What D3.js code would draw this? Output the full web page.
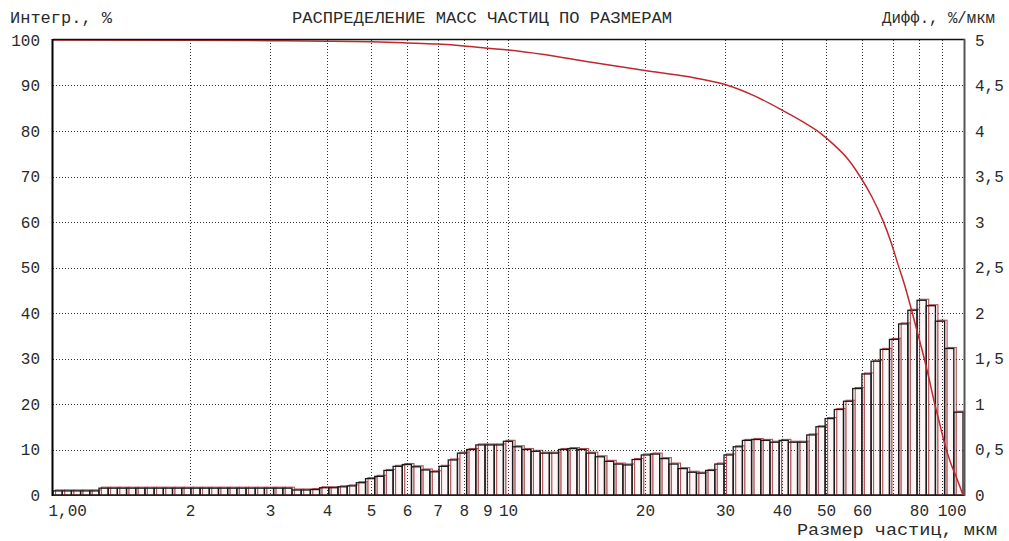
<!DOCTYPE html>
<html lang="ru">
<head>
<meta charset="utf-8">
<script src="https://cdn.jsdelivr.net/npm/d3@7/dist/d3.min.js"></script>
<style>
  html, body { margin: 0; padding: 0; background: #fff; }
  svg { display: block; }
  text { font-family: "Liberation Mono", "DejaVu Sans Mono", monospace; fill: #2a2a2a; }
</style>
</head>
<body>
<svg id="chart" width="1009" height="541"></svg>
<script>
// Size classes of the analyser: 99 geometric classes between 1 and 100 µm
const sizeMin = 1;
const sizeMax = 100;
const classCount = 99;

// Differential distribution, %/мкм, one value per size class (smallest first)
const diffValues = [
  0.045, 0.045, 0.045, 0.045, 0.045,
  0.075, 0.075, 0.075, 0.075, 0.075, 0.075, 0.075, 0.075, 0.075, 0.075,
  0.075, 0.075, 0.075, 0.075, 0.075, 0.075, 0.075, 0.075, 0.075, 0.075, 0.075,
  0.055, 0.055, 0.06,
  0.08, 0.08, 0.09, 0.10, 0.135, 0.18, 0.205, 0.27, 0.315, 0.335,
  0.31, 0.275, 0.255, 0.315, 0.385, 0.46, 0.50, 0.55, 0.55, 0.55,
  0.59, 0.53, 0.50, 0.48, 0.46, 0.46, 0.50, 0.51, 0.50, 0.46,
  0.42, 0.37, 0.34, 0.33, 0.39, 0.44, 0.45, 0.40, 0.34, 0.29,
  0.25, 0.24, 0.27, 0.34, 0.44, 0.53, 0.60, 0.61, 0.60, 0.58,
  0.60, 0.58, 0.58, 0.66, 0.75, 0.84, 0.94, 1.03, 1.17, 1.33,
  1.47, 1.60, 1.71, 1.88, 2.03, 2.14, 2.08, 1.91, 1.61, 0.91
];

// Integral (cumulative) curve, %: particle size, мкм -> value
const integSizes = [1, 2, 3, 4, 5, 6, 7, 8, 9, 10, 12, 15, 20, 25, 30, 35, 40, 44.5, 48.5,
  52, 56, 59.4, 63, 66.7, 69.5, 71.9, 74.5, 77.1, 80.5, 83.5, 86.3, 89, 91.3, 94, 96.6, 100];
const integValues = [100, 99.95, 99.85, 99.75, 99.6, 99.35, 99.1, 98.7, 98.2, 97.8, 96.8, 95.2, 93.3, 91.9, 90.2, 87.6, 84.6, 82.0, 79.6,
  77.0, 73.7, 70.0, 65.6, 60.3, 55.5, 50.8, 46.0, 40.6, 33.5, 27.2, 20.8, 15.4, 11.0, 7.0, 4.0, 0];

// Axis ticks and labels
const xTickValues = [1, 2, 3, 4, 5, 6, 7, 8, 9, 10, 20, 30, 40, 50, 60, 80, 100];
const xTickLabels = ["1,00", "2", "3", "4", "5", "6", "7", "8", "9", "10", "20", "30", "40", "50", "60", "80", "100"];
const xGridValues = [2, 3, 4, 5, 6, 7, 8, 9, 10, 20, 30, 40, 50, 60, 70, 80, 90];
const leftTickValues = [0, 10, 20, 30, 40, 50, 60, 70, 80, 90, 100];
const rightTickValues = [0, 0.5, 1, 1.5, 2, 2.5, 3, 3.5, 4, 4.5, 5];
const rightTickLabels = ["0", "0,5", "1", "1,5", "2", "2,5", "3", "3,5", "4", "4,5", "5"];

const titleText = "РАСПРЕДЕЛЕНИЕ МАСС ЧАСТИЦ ПО РАЗМЕРАМ";
const leftAxisTitle = "Интегр., %";
const rightAxisTitle = "Дифф., %/мкм";
const xAxisTitle = "Размер частиц, мкм";

// Layout
const plot = { left: 53, right: 963, top: 40, bottom: 495 };

const svg = d3.select("#chart");

const x = d3.scaleLog().domain([sizeMin, sizeMax]).range([plot.left, plot.right]);
const yL = d3.scaleLinear().domain([0, 100]).range([plot.bottom, plot.top]);
const yR = d3.scaleLinear().domain([0, 5]).range([plot.bottom, plot.top]);

// class boundaries
const ratio = Math.pow(sizeMax / sizeMin, 1 / classCount);
const bins = diffValues.map((v, i) => ({
  lo: sizeMin * Math.pow(ratio, i),
  hi: sizeMin * Math.pow(ratio, i + 1),
  v
}));

svg.append("defs").append("clipPath").attr("id", "plotClip")
  .append("rect")
  .attr("x", plot.left).attr("y", plot.top - 2)
  .attr("width", plot.right - plot.left + 1).attr("height", plot.bottom - plot.top + 4);

const plotG = svg.append("g").attr("clip-path", "url(#plotClip)");

// histogram: reddish shadow outline, then the dark outline
plotG.append("g").selectAll("rect").data(bins).join("rect")
  .attr("x", d => x(d.lo) + 2.5)
  .attr("y", d => yR(d.v) - 1)
  .attr("width", d => x(d.hi) - x(d.lo))
  .attr("height", d => plot.bottom - yR(d.v) + 1)
  .attr("fill", "#fdf6f6")
  .attr("stroke", "#b5545a")
  .attr("stroke-width", 1.1);

plotG.append("g").selectAll("rect").data(bins).join("rect")
  .attr("x", d => x(d.lo))
  .attr("y", d => yR(d.v))
  .attr("width", d => x(d.hi) - x(d.lo))
  .attr("height", d => plot.bottom - yR(d.v))
  .attr("fill", "none")
  .attr("stroke", "#1a1a1a")
  .attr("stroke-width", 1.3);

// dotted grid
const grid = svg.append("g").attr("stroke", "#333").attr("stroke-width", 1)
  .attr("stroke-dasharray", "1,2");
grid.selectAll("line.h").data(leftTickValues.filter(v => v > 0 && v < 100)).join("line")
  .attr("class", "h")
  .attr("x1", plot.left).attr("x2", plot.right)
  .attr("y1", d => Math.round(yL(d)) + 0.5).attr("y2", d => Math.round(yL(d)) + 0.5);
grid.selectAll("line.v").data(xGridValues).join("line")
  .attr("class", "v")
  .attr("x1", d => Math.round(x(d)) + 0.5).attr("x2", d => Math.round(x(d)) + 0.5)
  .attr("y1", plot.top).attr("y2", plot.bottom);

// integral curve
const line = d3.line()
  .x((d, i) => x(integSizes[i]))
  .y(d => yL(d))
  .curve(d3.curveMonotoneX);
svg.append("path")
  .datum(integValues)
  .attr("d", line)
  .attr("fill", "none")
  .attr("stroke", "#c0282e")
  .attr("stroke-width", 1.5);

// frame
svg.append("line").attr("x1", plot.left).attr("x2", plot.right + 2)
  .attr("y1", plot.top - 0.5).attr("y2", plot.top - 0.5)
  .attr("stroke", "#111").attr("stroke-width", 1.5);
svg.append("line").attr("x1", plot.left - 0.5).attr("x2", plot.left - 0.5)
  .attr("y1", plot.top - 1).attr("y2", plot.bottom + 1)
  .attr("stroke", "#000").attr("stroke-width", 2);
svg.append("line").attr("x1", plot.right + 1.5).attr("x2", plot.right + 1.5)
  .attr("y1", plot.top - 1).attr("y2", plot.bottom + 1)
  .attr("stroke", "#555").attr("stroke-width", 2);
svg.append("line").attr("x1", plot.left).attr("x2", plot.right + 1)
  .attr("y1", plot.bottom + 0.5).attr("y2", plot.bottom + 0.5)
  .attr("stroke", "#222").attr("stroke-width", 1.2);

// axes labels
const leftAxis = d3.axisLeft(yL).tickValues(leftTickValues).tickSize(0).tickPadding(13)
  .tickFormat(d => String(d));
svg.append("g").attr("transform", `translate(${plot.left},0)`).call(leftAxis)
  .call(g => g.select(".domain").remove())
  .selectAll("text").attr("font-size", 16).attr("font-family", null).attr("fill", "#2a2a2a");

const rightAxis = d3.axisRight(yR).tickValues(rightTickValues).tickSize(0).tickPadding(12)
  .tickFormat((d, i) => rightTickLabels[i]);
svg.append("g").attr("transform", `translate(${plot.right},0)`).call(rightAxis)
  .call(g => g.select(".domain").remove())
  .selectAll("text").attr("font-size", 16).attr("font-family", null).attr("fill", "#2a2a2a");

const bottomAxis = d3.axisBottom(x).tickValues(xTickValues).tickSize(0).tickPadding(10)
  .tickFormat((d, i) => xTickLabels[i]);
const bx = svg.append("g").attr("transform", `translate(0,${plot.bottom})`).call(bottomAxis)
  .call(g => g.select(".domain").remove());
bx.selectAll("text").attr("font-size", 16).attr("font-family", null).attr("fill", "#2a2a2a")
  .attr("text-anchor", (d, i) => i === 0 ? "start" : (d === 100 ? "end" : "middle"))
  .attr("dx", (d, i) => i === 0 ? -5 : (d === 100 ? 3 : 0));

// titles
svg.append("text").attr("x", 10).attr("y", 23).attr("font-size", 16)
  .attr("textLength", 102).attr("lengthAdjust", "spacingAndGlyphs").text(leftAxisTitle);
svg.append("text").attr("x", 292).attr("y", 23).attr("font-size", 16)
  .attr("textLength", 380).attr("lengthAdjust", "spacingAndGlyphs").text(titleText);
svg.append("text").attr("x", 882).attr("y", 23).attr("font-size", 16)
  .attr("textLength", 113).attr("lengthAdjust", "spacingAndGlyphs").text(rightAxisTitle);
svg.append("text").attr("x", 797).attr("y", 535).attr("font-size", 16)
  .attr("textLength", 200).attr("lengthAdjust", "spacingAndGlyphs").text(xAxisTitle);
</script>
</body>
</html>
